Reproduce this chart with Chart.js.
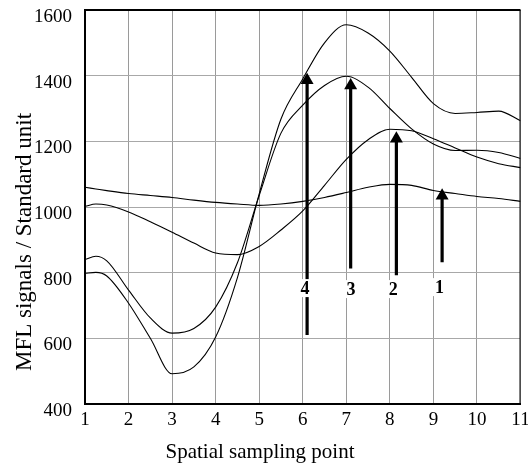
<!DOCTYPE html>
<html>
<head>
<meta charset="utf-8">
<script src="https://cdn.jsdelivr.net/npm/chart.js@4.4.0/dist/chart.umd.min.js"></script>
<style>
  html, body { margin: 0; padding: 0; background: #fff; }
  #wrap { width: 528px; height: 468px; position: relative; }
</style>
</head>
<body>
<div id="wrap"><canvas id="c" width="528" height="468"></canvas></div>
<script>
// ---- data ----
const samplePoints = [1, 1.25, 1.5, 2, 2.5, 3, 3.5, 4, 4.5, 5, 5.5, 6, 6.5, 7, 7.5, 8, 8.5, 9, 9.5, 10, 10.5, 11];
const signal4 = [798, 801, 790, 707, 600, 492, 513, 604, 785, 1040, 1268, 1390, 1500, 1555, 1530, 1475, 1395, 1315, 1285, 1288, 1292, 1263];
const signal3 = [840, 850, 836, 747, 662, 616, 630, 695, 830, 1035, 1225, 1310, 1370, 1398, 1365, 1300, 1238, 1192, 1172, 1173, 1166, 1148];
const signal2 = [1002, 1009, 1006, 985, 955, 923, 890, 860, 855, 880, 930, 988, 1066, 1145, 1205, 1237, 1232, 1208, 1180, 1152, 1132, 1120];
const signal1 = [1060, 1055, 1050, 1041, 1035, 1029, 1021, 1014, 1009, 1005, 1009, 1017, 1029, 1044, 1060, 1069, 1066, 1050, 1041, 1032, 1026, 1017];

const arrowX    = [6.1, 7.1, 8.15, 9.2];
const arrowBase = [610, 813, 792, 832];
const arrowHead = [1386, 1370, 1208, 1034];
const arrowLabels = ['4', '3', '2', '1'];
const labelX = [6.05, 7.11, 8.08, 9.14];
const labelY = [753, 750, 750, 756];

const yTicks = [400, 600, 800, 1000, 1200, 1400, 1600];
const xTicks = [1, 2, 3, 4, 5, 6, 7, 8, 9, 10, 11];
const xTitle = 'Spatial sampling point';
const yTitle = 'MFL signals / Standard unit';

// ---- build datasets ----
function series(vals) { return samplePoints.map((x, i) => ({ x: x, y: vals[i] })); }
const curveStyle = { borderColor: '#000', borderWidth: 1.1, pointRadius: 0, cubicInterpolationMode: 'monotone', fill: false };
const datasets = [
  Object.assign({ label: 'signal 4', data: series(signal4) }, curveStyle),
  Object.assign({ label: 'signal 3', data: series(signal3) }, curveStyle),
  Object.assign({ label: 'signal 2', data: series(signal2) }, curveStyle),
  Object.assign({ label: 'signal 1', data: series(signal1) }, curveStyle)
];
arrowX.forEach((x, i) => {
  datasets.push({
    label: 'arrow ' + arrowLabels[i],
    data: [{ x: x, y: arrowBase[i] }, { x: x, y: arrowHead[i] }],
    borderColor: '#000', borderWidth: 3.2, tension: 0,
    pointStyle: 'triangle', pointRadius: [0, 7.5], pointBorderWidth: 0,
    backgroundColor: '#000', pointBackgroundColor: '#000'
  });
});

const serif = "'Liberation Serif', 'Times New Roman', serif";

const decor = {
  id: 'decor',
  afterDatasetsDraw(chart) {
    const { ctx, chartArea: a, scales } = chart;
    ctx.save();
    // frame
    ctx.strokeStyle = '#000';
    ctx.lineWidth = 2;
    ctx.beginPath();
    ctx.moveTo(a.left, a.top); ctx.lineTo(a.right, a.top);
    ctx.stroke();
    ctx.lineWidth = 1;
    ctx.beginPath();
    ctx.moveTo(a.right - 0.5, a.top); ctx.lineTo(a.right - 0.5, a.bottom);
    ctx.stroke();
    // arrow labels with white backing
    ctx.font = 'bold 18px ' + serif;
    ctx.textAlign = 'center';
    ctx.textBaseline = 'middle';
    arrowLabels.forEach((t, i) => {
      const px = scales.x.getPixelForValue(labelX[i]);
      const py = scales.y.getPixelForValue(labelY[i]);
      const w = ctx.measureText(t).width + 4;
      ctx.fillStyle = '#fff';
      ctx.fillRect(px - w / 2, py - 9, w, 18);
      ctx.fillStyle = '#000';
      ctx.fillText(t, px, py + 1);
    });
    ctx.restore();
  },
  afterDraw(chart) {
    const { ctx } = chart;
    ctx.save();
    ctx.fillStyle = '#000';
    ctx.textAlign = 'center';
    ctx.textBaseline = 'middle';
    ctx.font = '21px ' + serif;
    ctx.fillText(xTitle, 260, 452);
    ctx.font = '23px ' + serif;
    ctx.translate(25, 242);
    ctx.rotate(-Math.PI / 2);
    ctx.fillText(yTitle, 0, 0);
    ctx.restore();
  }
};

new Chart(document.getElementById('c'), {
  type: 'line',
  data: { datasets: datasets },
  options: {
    responsive: false,
    animation: false,
    layout: { padding: { top: 10, right: 1, left: 0, bottom: 0 } },
    plugins: { legend: { display: false }, tooltip: { enabled: false }, title: { display: false } },
    scales: {
      x: {
        type: 'linear', min: 1, max: 11,
        afterBuildTicks: s => { s.ticks = xTicks.map(v => ({ value: v })); },
        afterFit: s => { s.height = 64; s.paddingLeft = 0; s.paddingRight = 0; },
        grid: { color: '#9a9a9a', lineWidth: 1, drawTicks: false },
        border: { color: '#000', width: 2 },
        ticks: { color: '#000', font: { family: serif, size: 19 }, padding: 5, maxRotation: 0, autoSkip: false,
                 callback: v => String(v) }
      },
      y: {
        type: 'linear', min: 400, max: 1600,
        afterBuildTicks: s => { s.ticks = yTicks.map(v => ({ value: v })); },
        afterFit: s => { s.width = 85; s.paddingTop = 0; s.paddingBottom = 0; },
        grid: { color: '#a8a8a8', lineWidth: 1, drawTicks: false },
        border: { color: '#000', width: 2 },
        ticks: { color: '#000', font: { family: serif, size: 19 }, padding: 13, labelOffset: 7,
                 callback: v => String(v) }
      }
    }
  },
  plugins: [decor]
});
</script>
</body>
</html>
